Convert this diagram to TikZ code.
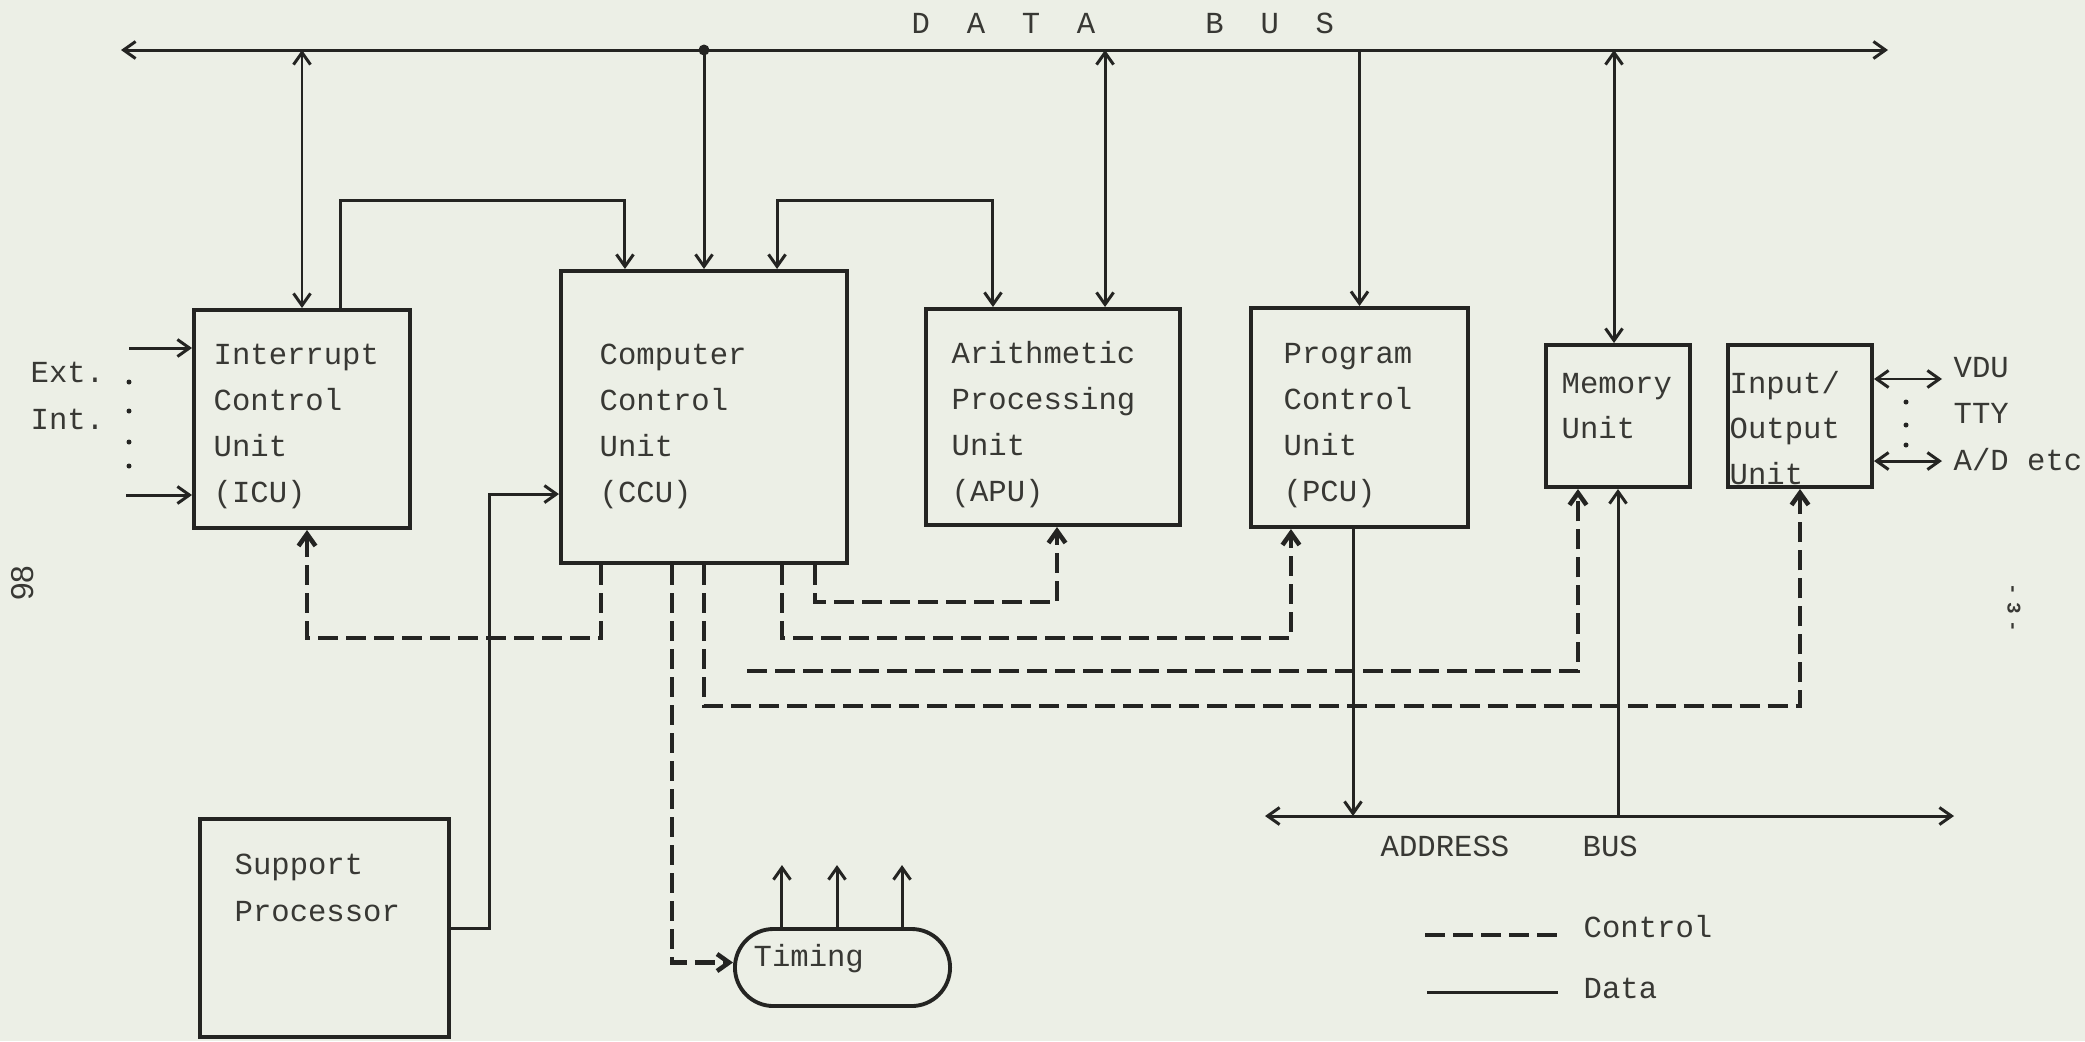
\documentclass[tikz,border=0pt]{standalone}
\usepackage{fontspec}
\newfontfamily\plotfont{Liberation Mono}
\newfontfamily\pagefont{Liberation Sans}
\usetikzlibrary{arrows.meta,calc}
\definecolor{paper}{RGB}{236,239,230}
\definecolor{ink}{RGB}{36,36,34}
\definecolor{txt}{RGB}{56,56,52}
\begin{document}
\begin{tikzpicture}[x=0.01cm,y=-0.01cm,
  >={Straight Barb[length=1.2mm,width=1.7mm]},
  box/.style={draw=ink,line width=1.1pt,inner sep=0pt},
  lbl/.style={text=txt,inner sep=0pt,anchor=base west,font=\plotfont\fontsize{8.7}{10}\selectfont},
  data/.style={draw=ink,line width=0.85pt},
  ctrl/.style={draw=ink,line width=1.3pt,dash pattern=on 0.2cm off 0.08cm},
  dotm/.style={fill=ink}
]
% paper
\fill[paper] (0,0) rectangle (2085,1041);

% boxes
\node[box,minimum width=2.16cm,minimum height=2.18cm] (icu) at (302,419) {};
\node[box,minimum width=2.86cm,minimum height=2.92cm] (ccu) at (704,417) {};
\node[box,minimum width=2.54cm,minimum height=2.16cm] (apu) at (1053,417) {};
\node[box,minimum width=2.17cm,minimum height=2.19cm] (pcu) at (1359.5,417.5) {};
\node[box,minimum width=1.44cm,minimum height=1.42cm] (mem) at (1618,416) {};
\node[box,minimum width=1.44cm,minimum height=1.42cm] (io) at (1800,416) {};
\node[box,minimum width=2.49cm,minimum height=2.18cm] (sup) at (324.5,928) {};
\node[box,rounded corners=0.385cm,minimum width=2.15cm,minimum height=0.77cm] (tim) at (842.5,967.5) {};

% box texts
\foreach \t [count=\i] in {Interrupt,Control,Unit,{(ICU)}}
  \node[lbl] (icut\i) at (213,{364+46*(\i-1)}) {\t};
\foreach \t [count=\i] in {Computer,Control,Unit,{(CCU)}}
  \node[lbl] (ccut\i) at (599,{364+46*(\i-1)}) {\t};
\foreach \t [count=\i] in {Arithmetic,Processing,Unit,{(APU)}}
  \node[lbl] (aput\i) at (951,{363+46*(\i-1)}) {\t};
\foreach \t [count=\i] in {Program,Control,Unit,{(PCU)}}
  \node[lbl] (pcut\i) at (1283,{363+46*(\i-1)}) {\t};
\foreach \t [count=\i] in {Memory,Unit}
  \node[lbl] (memt\i) at (1561,{393+45*(\i-1)}) {\t};
\foreach \t [count=\i] in {Input/,Output,Unit}
  \node[lbl] (iot\i) at (1729,{393+45.5*(\i-1)}) {\t};
\foreach \t [count=\i] in {Support,Processor}
  \node[lbl] (supt\i) at (234,{874+47*(\i-1)}) {\t};
\node[lbl] (timt) at (753,966) {Timing};

% data bus
\coordinate (busL) at (121,50);
\coordinate (busR) at (1888,50);
\coordinate (jn) at (704,50);
\coordinate (loopY) at (0,200);
\draw[data,<->] (busL) -- (busR);
\fill[dotm] (jn) circle (0.055cm);
\node[lbl] (dbus) at (911,33) {D~~A~~T~~A~~~~~~B~~U~~S};

% data connections
\draw[data,<->] (icu.north |- busL) -- (icu.north);
\draw[data,->] ([xshift=0.38cm]icu.north) -- ([xshift=0.38cm]icu.north |- loopY) -| ([xshift=-0.79cm]ccu.north);
\draw[data,->] (jn) -- (ccu.north);
\draw[data,<->] ([xshift=0.73cm]ccu.north) -- ([xshift=0.73cm]ccu.north |- loopY) -| ([xshift=-0.6cm]apu.north);
\draw[data,<->] ([xshift=0.52cm]apu.north |- busL) -- ([xshift=0.52cm]apu.north);
\draw[data,->] (pcu.north |- busL) -- (pcu.north);
\draw[data,<->] ([xshift=-0.04cm]mem.north |- busL) -- ([xshift=-0.04cm]mem.north);

% external interrupts
\node[lbl] (ext) at (30,382) {Ext.};
\node[lbl] (int) at (30,429) {Int.};
\coordinate (ext1) at (129,348);
\coordinate (ext2) at (126,495);
\draw[data,->] (ext1) -- (ext1 -| icu.west);
\draw[data,->] (ext2) -- (ext2 -| icu.west);
\foreach \yy in {382,411,442,466} \fill[dotm] (129,\yy) circle (0.025cm);

% support processor to CCU
\draw[data,->] (sup.east) -- ++(38,0) |- ([yshift=-0.77cm]ccu.west);

% control lines
\draw[ctrl,->] ([xshift=-1.03cm]ccu.south) -- ++(0,73) -| ([xshift=0.05cm]icu.south);
\draw[ctrl,->] ([xshift=-0.32cm]ccu.south) |- ([yshift=0.05cm]tim.west);
\draw[ctrl,->] (ccu.south) -- ++(0,141) -| (io.south);
\draw[ctrl,->] ([xshift=0.78cm]ccu.south) -- ++(0,73) -| ([xshift=-0.685cm]pcu.south);
\draw[ctrl,->] ([xshift=1.11cm]ccu.south) -- ++(0,37) -| ([xshift=0.04cm]apu.south);
\coordinate (mctl) at (747,671);
\draw[ctrl,->] (mctl) -| ([xshift=-0.4cm]mem.south);

% address bus
\coordinate (abL) at (1265,816);
\coordinate (abR) at (1954,816);
\draw[data,<->] (abL) -- (abR);
\draw[data,->] ([xshift=-0.065cm]pcu.south) -- ([xshift=-0.065cm]pcu.south |- abL);
\draw[data,->] (mem.south |- abL) -- (mem.south);
\node[lbl] (abus) at (1380,856) {ADDRESS~~~~BUS};

% I/O peripherals
\node[lbl] (vdu) at (1953,377) {VDU};
\node[lbl] (tty) at (1953,423) {TTY};
\node[lbl] (adc) at (1953,470) {A/D etc};
\draw[data,<->] ([yshift=0.37cm]io.east) -- ++(68,0);
\draw[data,<->] ([yshift=-0.45cm]io.east) -- ++(68,0);
\foreach \yy in {402,425,445} \fill[dotm] (1906,\yy) circle (0.025cm);

% timing outputs
\foreach \dx in {-0.605,-0.055,0.595}
  \draw[data,->] ([xshift=\dx cm]tim.north) -- ++(0,-62);

% legend
\coordinate (lc) at (1425,935);
\coordinate (ld) at (1427,992);
\draw[ctrl] (lc) -- ++(136,0);
\draw[data] (ld) -- ++(131,0);
\node[lbl] (lct) at (1583,937) {Control};
\node[lbl] (ldt) at (1583,998) {Data};

% page numbers
\node[text=txt,inner sep=0pt,rotate=90,font=\pagefont\fontsize{9}{10}\selectfont] (pg) at (23,583) {98};
\node[text=txt,inner sep=0pt,rotate=-90,font=\plotfont\bfseries\fontsize{5.5}{7}\selectfont] (pgr) at (2014,608) {-\kern2pt 3\kern2pt -};
\end{tikzpicture}
\end{document}
